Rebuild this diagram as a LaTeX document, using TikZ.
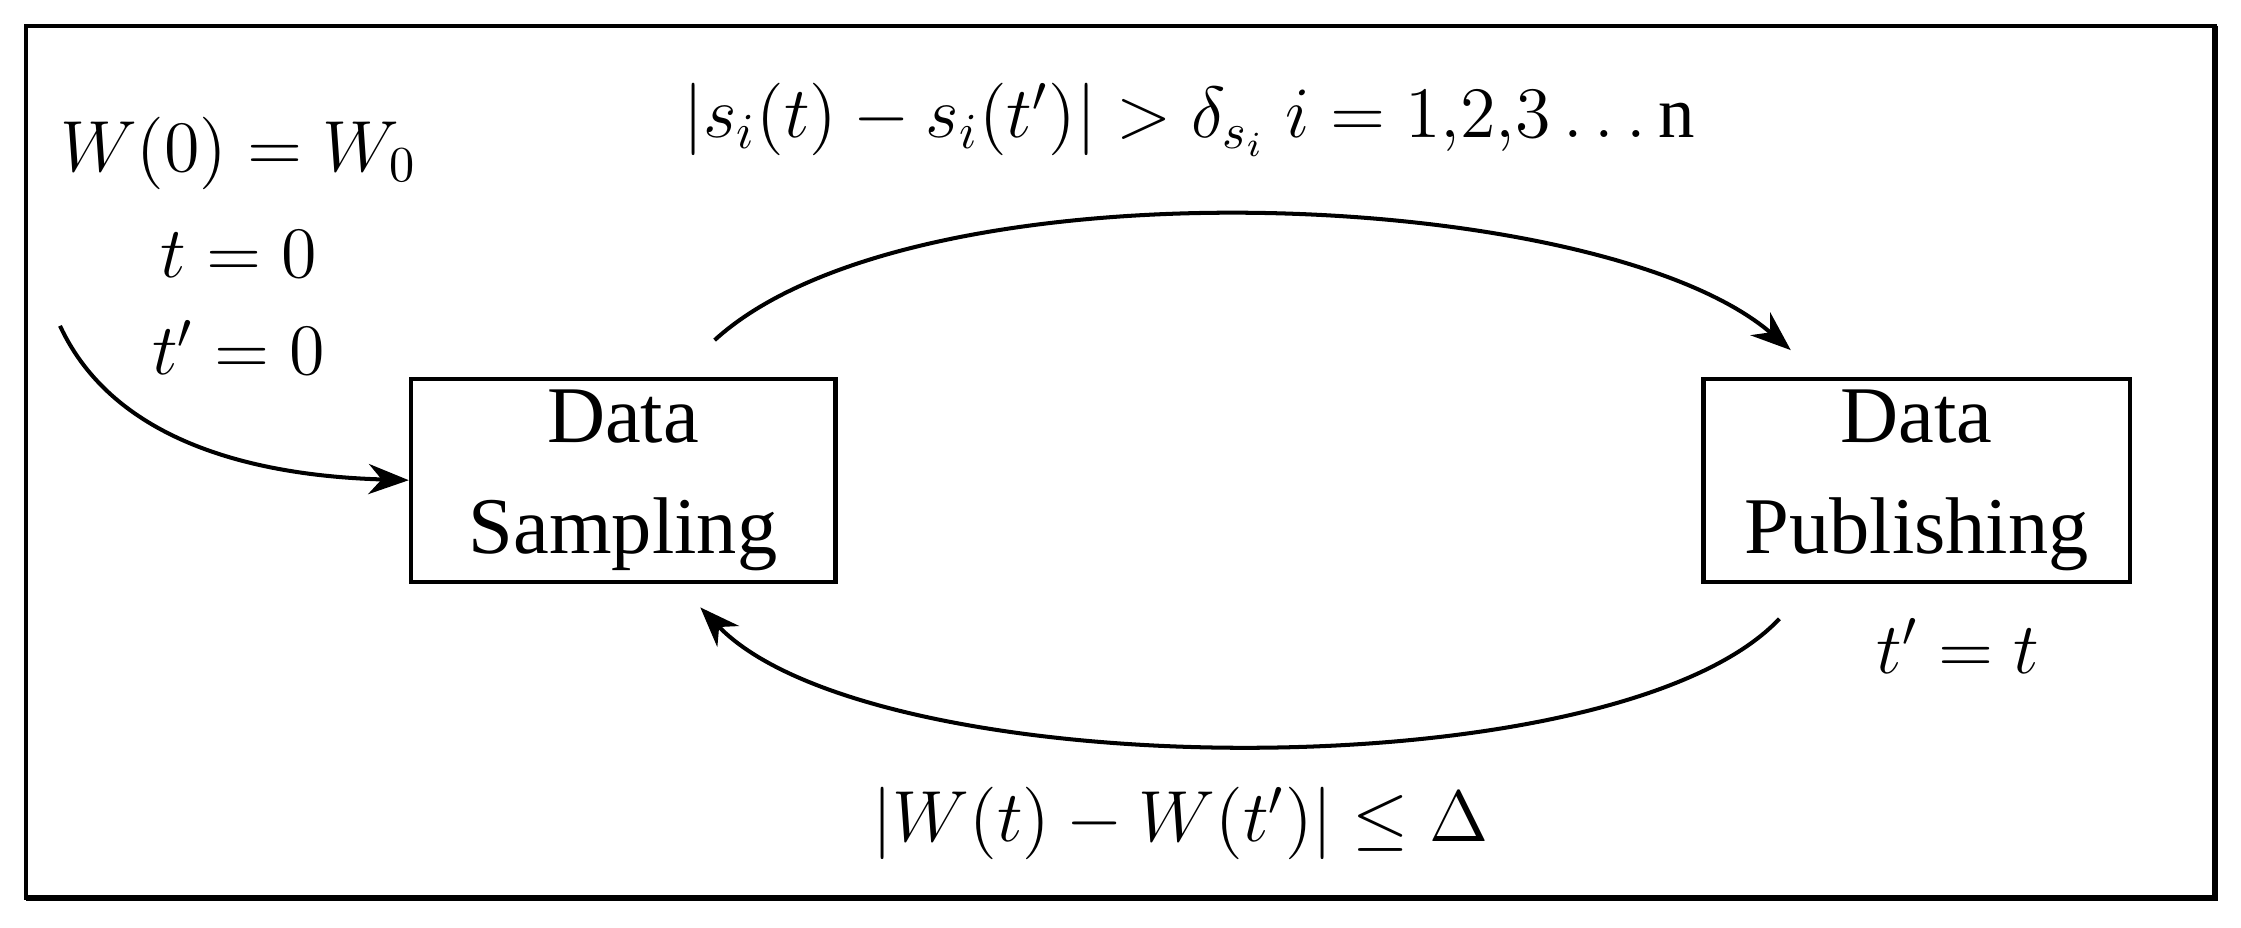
\documentclass[tikz,border=0pt]{standalone}
\usepackage{fontspec}
\setmainfont{Liberation Serif}
\usetikzlibrary{arrows.meta}
\begin{document}
\begin{tikzpicture}[x=0.01cm,y=-0.01cm,
  box/.style={draw,line width=0.8pt,align=center,font=\fontsize{16}{22}\selectfont,inner sep=0pt},
  lab/.style={font=\fontsize{14.5}{18}\selectfont},
  arr/.style={-{Stealth[length=8pt,width=6pt]},line width=0.8pt}]
\useasboundingbox (0,0) rectangle (1568,649);
\draw[line width=0.8pt] (18,18) rectangle (1550,628);
\draw[line width=1.2pt] (1550,18) -- (1550,628) -- (18,628);
\node[box,minimum width=2.97cm,minimum height=1.42cm] (ds) at (436,336) {Data\\Sampling};
\node[box,minimum width=2.98cm,minimum height=1.42cm] (dp) at (1341,336) {Data\\Publishing};
\coordinate (start) at (42,228);
\coordinate (a1) at (500,238);
\coordinate (a2) at (1253,245);
\coordinate (b1) at (1245,433);
\coordinate (b2) at (490,425);
\node[lab] (w0) at (167,107) {$W(0)=W_0$};
\node[lab] (t0) at (167,178) {$t=0$};
\node[lab] (tp0) at (167,243) {$t'=0$};
\node[lab] (tpt) at (1370,452) {$t'=t$};
\node[lab] (top) at (832,84) {$|s_i(t)-s_i(t')|>\delta_{s_i}\;i=1{,}2{,}3\ldots\mathrm{n}$};
\node[lab] (bot) at (826,576) {$|W(t)-W(t')|\le\Delta$};
\draw[arr] (start) .. controls (80,310) and (180,333) .. (ds.west);
\draw[arr] (a1) .. controls (640,110) and (1120,130) .. (a2);
\draw[arr] (b1) .. controls (1130,555) and (610,550) .. (b2);
\end{tikzpicture}
\end{document}
